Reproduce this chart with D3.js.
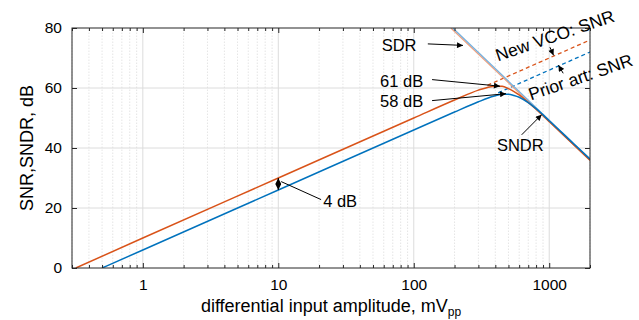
<!DOCTYPE html>
<html lang="en">
	<head>
		<meta charset="utf-8">
		<title>SNR / SNDR vs input amplitude</title>
		<script src="https://d3js.org/d3.v7.min.js"></script>
		<style>
			body{ margin: 0; background: #fff; }
			*{ font-family: 'Liberation Sans', Arial, Helvetica, sans-serif; }
		</style>
	</head>
	<body>
		<script>
			//Width and height
			var w = 639;
			var h = 320;
			var margin = {left: 72, right: 49, top: 28, bottom: 52};

			//tick labels
			var xTicks = [1, 10, 100, 1000];
			var yTicks = [0, 20, 40, 60, 80];

			//New VCO (orange) SNDR: amplitude mVpp / dB
			var newAmp  = [0.32, 1, 10, 100, 200, 300, 350, 400, 450, 500, 550, 600, 700, 800, 1000, 1500, 2000];
			var newSNDR = [0, 10, 30, 50, 56, 59.3, 60.2, 60.6, 60.6, 59.8, 58.8, 57.7, 55.2, 52.9, 48.8, 41.3, 35.9];

			//Prior art (blue) SNDR
			var priorAmp  = [0.5, 1, 10, 100, 200, 300, 350, 400, 450, 500, 550, 600, 700, 800, 1000, 1500, 2000];
			var priorSNDR = [0, 6, 26, 46, 52, 55.4, 56.6, 57.4, 57.9, 57.9, 57.5, 56.9, 55.1, 53.1, 49.1, 41.6, 36.3];

			//dashed SNR continuations
			var newSNRAmp = [350, 2000];
			var newSNR    = [60.9, 76];
			var priorSNRAmp = [420, 2000];
			var priorSNR    = [58.4, 72];

			//SDR lines (pale)
			var newSDRAmp = [188, 2000];
			var newSDR    = [80, 35.9];
			var priorSDRAmp = [194, 2000];
			var priorSDR    = [80, 36.3];

			var orange = "#d95319";
			var blue = "#0072bd";

			function zip(a, b) { return a.map(function(d, i) { return [d, b[i]]; }); }

			//scales
			var xScale = d3.scaleLog()
				.domain([0.3, 2000])
				.range([margin.left, w - margin.right]);
			var yScale = d3.scaleLinear()
				.domain([0, 80])
				.range([h - margin.bottom, margin.top]);

			var svg = d3.select("body")
				.append("svg")
				.attr("width", w)
				.attr("height", h);

			var x0 = margin.left, x1 = w - margin.right;
			var y0 = h - margin.bottom, y1 = margin.top;

			//minor tick positions
			var minor = [];
			[0.1, 1, 10, 100, 1000].forEach(function(dec) {
				for (var k = 2; k <= 9; k++) {
					var v = dec * k;
					if (v >= 0.3 && v <= 2000) minor.push(v);
				}
			});

			//GRID
			svg.append("g").selectAll("line")
				.data(minor).enter().append("line")
				.attr("x1", function(d) { return xScale(d); })
				.attr("x2", function(d) { return xScale(d); })
				.attr("y1", y0).attr("y2", y1)
				.attr("stroke", "#dedede")
				.attr("stroke-width", 0.8)
				.attr("stroke-dasharray", "1.5,1.5");
			svg.append("g").selectAll("line")
				.data(xTicks).enter().append("line")
				.attr("x1", function(d) { return xScale(d); })
				.attr("x2", function(d) { return xScale(d); })
				.attr("y1", y0).attr("y2", y1)
				.attr("stroke", "#dcdcdc");
			svg.append("g").selectAll("line")
				.data(yTicks.slice(1, -1)).enter().append("line")
				.attr("x1", x0).attr("x2", x1)
				.attr("y1", function(d) { return yScale(d); })
				.attr("y2", function(d) { return yScale(d); })
				.attr("stroke", "#dcdcdc");

			//clip
			svg.append("clipPath").attr("id", "plot")
				.append("rect")
				.attr("x", x0).attr("y", y1)
				.attr("width", x1 - x0).attr("height", y0 - y1);

			var line = d3.line()
				.x(function(d) { return xScale(d[0]); })
				.y(function(d) { return yScale(d[1]); });

			var curves = svg.append("g").attr("clip-path", "url(#plot)");

			//dashed SNR lines
			curves.append("path").datum(zip(newSNRAmp, newSNR))
				.attr("d", line).attr("fill", "none")
				.attr("stroke", orange).attr("stroke-width", 1.3)
				.attr("stroke-dasharray", "4,3");
			curves.append("path").datum(zip(priorSNRAmp, priorSNR))
				.attr("d", line).attr("fill", "none")
				.attr("stroke", blue).attr("stroke-width", 1.3)
				.attr("stroke-dasharray", "4,3");

			//SDR
			curves.append("path").datum(zip(newSDRAmp, newSDR))
				.attr("d", line).attr("fill", "none")
				.attr("stroke", "#f0a07e").attr("stroke-width", 1.3);
			curves.append("path").datum(zip(priorSDRAmp, priorSDR))
				.attr("d", line).attr("fill", "none")
				.attr("stroke", "#74b0de").attr("stroke-width", 1.3);

			//SNDR
			var curve = d3.line().curve(d3.curveMonotoneX)
				.x(function(d) { return xScale(d[0]); })
				.y(function(d) { return yScale(d[1]); });
			curves.append("path").datum(zip(newAmp, newSNDR))
				.attr("d", curve).attr("fill", "none")
				.attr("stroke", orange).attr("stroke-width", 1.5);
			curves.append("path").datum(zip(priorAmp, priorSNDR))
				.attr("d", curve).attr("fill", "none")
				.attr("stroke", blue).attr("stroke-width", 1.5);

			//AXES
			var axisColor = "#262626";
			function styleAxis(g) {
				g.select(".domain").remove();
				g.selectAll("line").attr("stroke", axisColor);
				g.selectAll("text").attr("fill", "#000").attr("font-size", "15.5px")
					.attr("font-family", "'Liberation Sans', Arial, sans-serif");
			}
			svg.append("g")
				.attr("transform", "translate(0," + y0 + ")")
				.call(d3.axisBottom(xScale).tickValues(xTicks).tickFormat(d3.format("d"))
					.tickSizeInner(-5).tickSizeOuter(0).tickPadding(11))
				.call(styleAxis);
			svg.append("g")
				.attr("transform", "translate(0," + y0 + ")")
				.call(d3.axisBottom(xScale).tickValues(minor).tickFormat("")
					.tickSizeInner(-3).tickSizeOuter(0))
				.call(styleAxis);
			svg.append("g")
				.attr("transform", "translate(0," + y1 + ")")
				.call(d3.axisTop(xScale).tickValues(xTicks).tickFormat("")
					.tickSizeInner(-5).tickSizeOuter(0))
				.call(styleAxis);
			svg.append("g")
				.attr("transform", "translate(0," + y1 + ")")
				.call(d3.axisTop(xScale).tickValues(minor).tickFormat("")
					.tickSizeInner(-3).tickSizeOuter(0))
				.call(styleAxis);
			svg.append("g")
				.attr("transform", "translate(" + x0 + ",0)")
				.call(d3.axisLeft(yScale).tickValues(yTicks)
					.tickSizeInner(-5).tickSizeOuter(0).tickPadding(10))
				.call(styleAxis);
			svg.append("g")
				.attr("transform", "translate(" + x1 + ",0)")
				.call(d3.axisRight(yScale).tickValues(yTicks).tickFormat("")
					.tickSizeInner(-5).tickSizeOuter(0))
				.call(styleAxis);

			//box
			svg.append("rect")
				.attr("x", x0).attr("y", y1)
				.attr("width", x1 - x0).attr("height", y0 - y1)
				.attr("fill", "none").attr("stroke", axisColor);

			//axis titles
			var xt = svg.append("text")
				.attr("x", (x0 + x1) / 2).attr("y", 311.5)
				.attr("text-anchor", "middle").attr("font-size", "18px")
				.text("differential input amplitude, mV");
			xt.append("tspan").attr("font-size", "12px").attr("dy", 4).text("pp");

			svg.append("text")
				.attr("transform", "translate(33," + ((y0 + y1) / 2) + ") rotate(-90)")
				.attr("text-anchor", "middle").attr("font-size", "18px")
				.text("SNR,SNDR, dB");

			//ANNOTATIONS (amplitude, dB)
			var defs = svg.append("defs");
			defs.append("marker").attr("id", "head")
				.attr("viewBox", "0 0 10 10").attr("refX", 10).attr("refY", 5)
				.attr("markerWidth", 7).attr("markerHeight", 6)
				.attr("markerUnits", "userSpaceOnUse")
				.attr("orient", "auto-start-reverse")
				.append("path").attr("d", "M0,0L10,5L0,10z").attr("fill", "#000");

			var labels = [
				{t: "SDR",   a: 77.9, v: 74.4},
				{t: "61 dB", a: 81.3, v: 62.4},
				{t: "58 dB", a: 81.3, v: 55.5},
				{t: "SNDR",  a: 612,  v: 41.1},
				{t: "4 dB",  a: 28.6, v: 22.3}
			];
			svg.selectAll("text.note").data(labels).enter().append("text")
				.attr("class", "note")
				.attr("x", function(d) { return xScale(d.a); })
				.attr("y", function(d) { return yScale(d.v); })
				.attr("dy", "0.36em")
				.attr("text-anchor", "middle").attr("font-size", "16.5px")
				.text(function(d) { return d.t; });

			var arrows = [
				[127, 74.7, 231, 74.2],
				[136.5, 62.8, 433, 60.6],
				[136.5, 55.8, 480, 58.1],
				[626, 44.4, 879, 51.1],
				[1012, 73.6, 1076, 70.9],
				[1268, 64.9, 1170, 67.6]
			];
			svg.selectAll("line.arrow").data(arrows).enter().append("line")
				.attr("class", "arrow")
				.attr("x1", function(d) { return xScale(d[0]); })
				.attr("y1", function(d) { return yScale(d[1]); })
				.attr("x2", function(d) { return xScale(d[2]); })
				.attr("y2", function(d) { return yScale(d[3]); })
				.attr("stroke", "#000").attr("stroke-width", 1)
				.attr("marker-end", "url(#head)");

			//4 dB double arrow and leader
			svg.append("line")
				.attr("x1", xScale(10)).attr("x2", xScale(10))
				.attr("y1", yScale(30)).attr("y2", yScale(26))
				.attr("stroke", "#000")
				.attr("marker-start", "url(#head)").attr("marker-end", "url(#head)");
			svg.append("line")
				.attr("x1", xScale(10.5)).attr("y1", yScale(28.8))
				.attr("x2", xScale(20.7)).attr("y2", yScale(22.8))
				.attr("stroke", "#000");

			//rotated series labels
			var rot = [
				{t: "New VCO: SNR", a: 419, v: 68.8},
				{t: "Prior art: SNR", a: 733, v: 55.8}
			];
			svg.selectAll("text.rot").data(rot).enter().append("text")
				.attr("class", "rot")
				.attr("transform", function(d) {
					return "translate(" + xScale(d.a) + "," + yScale(d.v) + ") rotate(-19)";
				})
				.attr("font-size", "17.5px")
				.text(function(d) { return d.t; });
		</script>
	</body>
</html>
